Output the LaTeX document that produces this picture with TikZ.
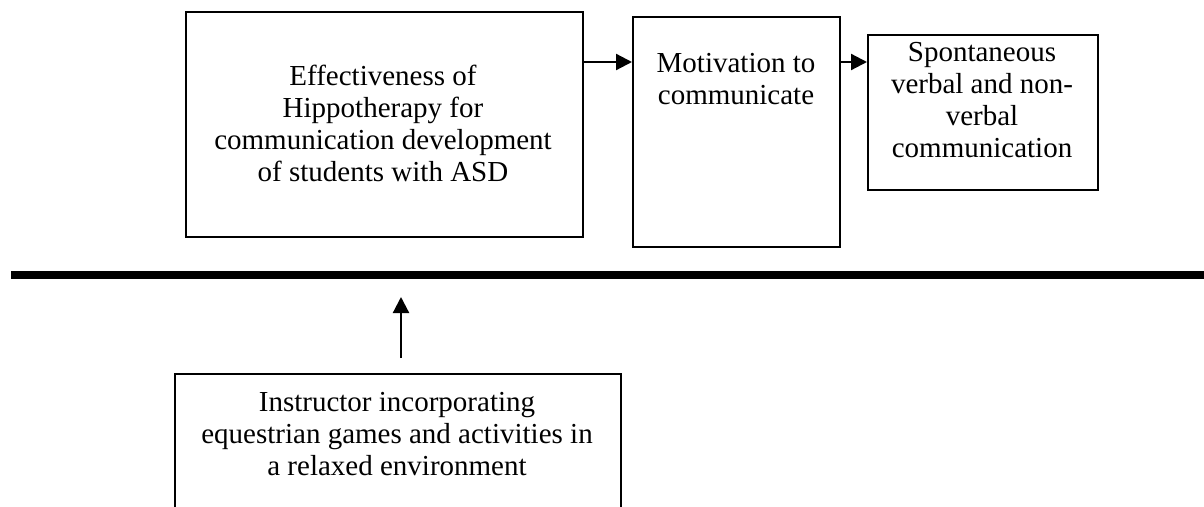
\documentclass[tikz,border=0pt]{standalone}
\usepackage{fontspec}
\setmainfont{Liberation Serif}
\usetikzlibrary{arrows.meta}
\begin{document}
\begin{tikzpicture}[x=1pt,y=1pt,
  box/.style={draw,line width=2.2pt,rectangle,inner sep=0pt},
  txt/.style={align=center,font=\fontsize{29}{32}\selectfont,inner sep=0pt},
  arr/.style={line width=2.2pt,-{Triangle[length=16pt,width=16pt]}}]
\useasboundingbox (0,0) rectangle (1204,-506);
% boxes
\node[box,minimum width=397pt,minimum height=225pt,anchor=north west] (b1) at (185,-11) {};
\node[box,minimum width=207pt,minimum height=230pt,anchor=north west] (b2) at (632,-16) {};
\node[box,minimum width=230pt,minimum height=155pt,anchor=north west] (b3) at (867,-34) {};
\node[box,minimum width=446pt,minimum height=160pt,anchor=north west] (b4) at (174,-373) {};
% texts
\node[txt] (t1) at (383,-123) {Effectiveness of\\Hippotherapy for\\communication development\\of students with ASD};
\node[txt] (t2) at (736,-79) {Motivation to\\communicate};
\node[txt] (t3) at (982,-100) {Spontaneous\\verbal and non-\\verbal\\communication};
\node[txt] (t4) at (397,-434) {Instructor incorporating\\equestrian games and activities in\\a relaxed environment};
% arrows
\draw[arr] (b1.east |- 0,-62) -- (b2.west |- 0,-62);
\draw[arr] (b2.east |- 0,-62) -- (b3.west |- 0,-62);
% thick line
\coordinate (l1) at (11,-275);
\coordinate (l2) at (1204,-275);
\draw[line width=8pt] (l1) -- (l2);
\coordinate (a1) at (401,-358);
\coordinate (a2) at (401,-297);
\draw[arr] (a1) -- (a2);
\end{tikzpicture}
\end{document}
